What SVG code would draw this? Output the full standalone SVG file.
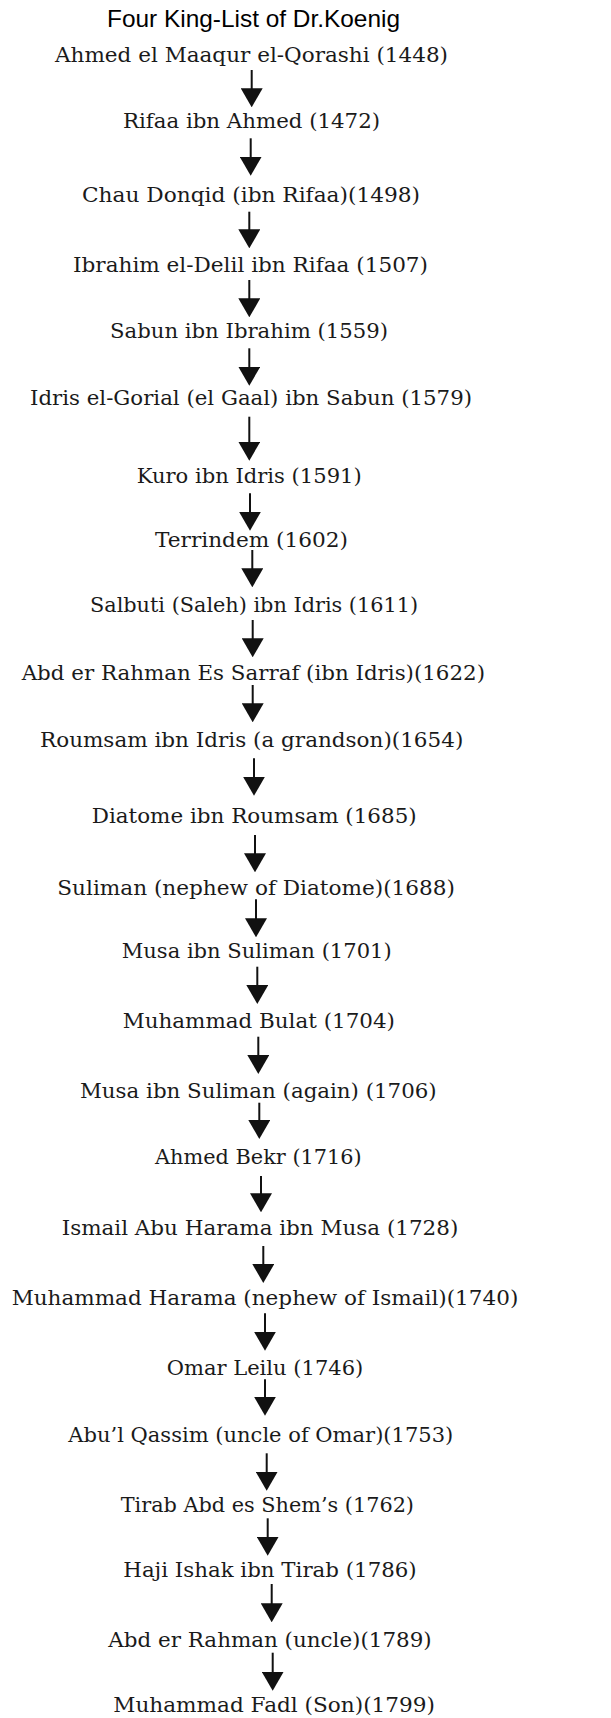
<svg xmlns="http://www.w3.org/2000/svg" width="611" height="1718" viewBox="0 0 611 1718">
<style>
.t{font-family:"Liberation Sans",Arial,sans-serif;font-size:24px;fill:#000}
.n{font-family:"DejaVu Serif","Liberation Serif",serif;font-size:20px;fill:#1a1a1a}
.c{stroke:#111;stroke-width:2;fill:none;marker-end:url(#ah)}
</style>
<defs>
<marker id="ah" markerUnits="userSpaceOnUse" viewBox="0 -11 19 22" markerWidth="19" markerHeight="22" refX="1" refY="0" orient="auto">
<path d="M0,-11 L19,0 L0,11 Z" fill="#111"/>
</marker>
</defs>
<rect width="611" height="1718" fill="#fff"/>
<g id="title"><text class="t" x="107" y="27" textLength="293" lengthAdjust="spacingAndGlyphs">Four King-List of Dr.Koenig</text></g>
<g id="connectors">
<line class="c" x1="251.7" y1="70" x2="251.7" y2="89.3"/>
<line class="c" x1="250.7" y1="138.3" x2="250.7" y2="157.7"/>
<line class="c" x1="249.3" y1="211.7" x2="249.3" y2="230.3"/>
<line class="c" x1="249.3" y1="280" x2="249.3" y2="299.3"/>
<line class="c" x1="249.3" y1="348.3" x2="249.3" y2="367.7"/>
<line class="c" x1="249.3" y1="416.7" x2="249.3" y2="442.7"/>
<line class="c" x1="250" y1="493.3" x2="250" y2="512.7"/>
<line class="c" x1="252.3" y1="550" x2="252.3" y2="569.3"/>
<line class="c" x1="252.7" y1="620" x2="252.7" y2="639.3"/>
<line class="c" x1="252.7" y1="685" x2="252.7" y2="704.3"/>
<line class="c" x1="254" y1="758.3" x2="254" y2="777.7"/>
<line class="c" x1="255" y1="835" x2="255" y2="854.3"/>
<line class="c" x1="256" y1="899.3" x2="256" y2="919.3"/>
<line class="c" x1="257.3" y1="966.7" x2="257.3" y2="986"/>
<line class="c" x1="258.3" y1="1036.7" x2="258.3" y2="1056"/>
<line class="c" x1="259.3" y1="1102.7" x2="259.3" y2="1121"/>
<line class="c" x1="261" y1="1176" x2="261" y2="1194.3"/>
<line class="c" x1="263.3" y1="1246" x2="263.3" y2="1265"/>
<line class="c" x1="265" y1="1313.3" x2="265" y2="1332.7"/>
<line class="c" x1="265" y1="1379.3" x2="265" y2="1397.7"/>
<line class="c" x1="266.7" y1="1453.3" x2="266.7" y2="1472.7"/>
<line class="c" x1="267.7" y1="1518.3" x2="267.7" y2="1537.7"/>
<line class="c" x1="271.7" y1="1584" x2="271.7" y2="1604.3"/>
<line class="c" x1="272.7" y1="1652.7" x2="272.7" y2="1672.7"/>
</g>
<g id="n1"><text class="n" x="55" y="61.7" textLength="393" lengthAdjust="spacingAndGlyphs">Ahmed el Maaqur el-Qorashi (1448)</text></g>
<g id="n2"><text class="n" x="123" y="128" textLength="257" lengthAdjust="spacingAndGlyphs">Rifaa ibn Ahmed (1472)</text></g>
<g id="n3"><text class="n" x="82" y="202" textLength="338" lengthAdjust="spacingAndGlyphs">Chau Donqid (ibn Rifaa)(1498)</text></g>
<g id="n4"><text class="n" x="73" y="271.7" textLength="355" lengthAdjust="spacingAndGlyphs">Ibrahim el-Delil ibn Rifaa (1507)</text></g>
<g id="n5"><text class="n" x="110" y="338.3" textLength="278" lengthAdjust="spacingAndGlyphs">Sabun ibn Ibrahim (1559)</text></g>
<g id="n6"><text class="n" x="30" y="405" textLength="442" lengthAdjust="spacingAndGlyphs">Idris el-Gorial (el Gaal) ibn Sabun (1579)</text></g>
<g id="n7"><text class="n" x="136.7" y="483.3" textLength="225" lengthAdjust="spacingAndGlyphs">Kuro ibn Idris (1591)</text></g>
<g id="n8"><text class="n" x="155" y="546.7" textLength="193" lengthAdjust="spacingAndGlyphs">Terrindem (1602)</text></g>
<g id="n9"><text class="n" x="90" y="611.7" textLength="328" lengthAdjust="spacingAndGlyphs">Salbuti (Saleh) ibn Idris (1611)</text></g>
<g id="n10"><text class="n" x="21.7" y="680" textLength="463.3" lengthAdjust="spacingAndGlyphs">Abd er Rahman Es Sarraf (ibn Idris)(1622)</text></g>
<g id="n11"><text class="n" x="40" y="746.7" textLength="423.3" lengthAdjust="spacingAndGlyphs">Roumsam ibn Idris (a grandson)(1654)</text></g>
<g id="n12"><text class="n" x="91.7" y="823.3" textLength="325" lengthAdjust="spacingAndGlyphs">Diatome ibn Roumsam (1685)</text></g>
<g id="n13"><text class="n" x="57.3" y="895" textLength="397.7" lengthAdjust="spacingAndGlyphs">Suliman (nephew of Diatome)(1688)</text></g>
<g id="n14"><text class="n" x="121.7" y="958.3" textLength="270" lengthAdjust="spacingAndGlyphs">Musa ibn Suliman (1701)</text></g>
<g id="n15"><text class="n" x="122.7" y="1028.3" textLength="272.3" lengthAdjust="spacingAndGlyphs">Muhammad Bulat (1704)</text></g>
<g id="n16"><text class="n" x="80" y="1098.3" textLength="356.7" lengthAdjust="spacingAndGlyphs">Musa ibn Suliman (again) (1706)</text></g>
<g id="n17"><text class="n" x="155" y="1164.3" textLength="206.7" lengthAdjust="spacingAndGlyphs">Ahmed Bekr (1716)</text></g>
<g id="n18"><text class="n" x="61.7" y="1235" textLength="396.6" lengthAdjust="spacingAndGlyphs">Ismail Abu Harama ibn Musa (1728)</text></g>
<g id="n19"><text class="n" x="11.7" y="1305" textLength="506.6" lengthAdjust="spacingAndGlyphs">Muhammad Harama (nephew of Ismail)(1740)</text></g>
<g id="n20"><text class="n" x="166.7" y="1375" textLength="196.6" lengthAdjust="spacingAndGlyphs">Omar Leilu (1746)</text></g>
<g id="n21"><text class="n" x="68.3" y="1441.7" textLength="385" lengthAdjust="spacingAndGlyphs">Abu’l Qassim (uncle of Omar)(1753)</text></g>
<g id="n22"><text class="n" x="120.7" y="1511.7" textLength="293.3" lengthAdjust="spacingAndGlyphs">Tirab Abd es Shem’s (1762)</text></g>
<g id="n23"><text class="n" x="123.3" y="1576.7" textLength="293.4" lengthAdjust="spacingAndGlyphs">Haji Ishak ibn Tirab (1786)</text></g>
<g id="n24"><text class="n" x="108.3" y="1646.7" textLength="323.4" lengthAdjust="spacingAndGlyphs">Abd er Rahman (uncle)(1789)</text></g>
<g id="n25"><text class="n" x="113.3" y="1711.7" textLength="321.7" lengthAdjust="spacingAndGlyphs">Muhammad Fadl (Son)(1799)</text></g>
</svg>
